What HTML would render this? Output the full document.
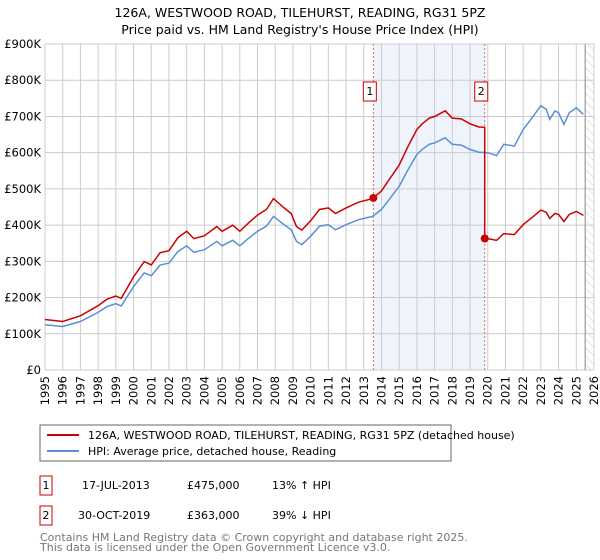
<!DOCTYPE html>
<html><head><meta charset="utf-8"><style>
body{margin:0;background:#fff;font-family:"Liberation Sans","DejaVu Sans",sans-serif;}
#wrap{position:relative;width:600px;height:560px;overflow:hidden}
</style></head><body>
<div id="wrap">
<svg id="svg" width="600" height="560" xmlns="http://www.w3.org/2000/svg" font-family="DejaVu Sans, Liberation Sans, sans-serif">
<defs>
<pattern id="hatch" width="6" height="6" patternUnits="userSpaceOnUse" patternTransform="rotate(-45)">
<line x1="0" y1="0" x2="0" y2="6" stroke="#ccc" stroke-width="1"/>
</pattern>
</defs>
<text x="300" y="17" text-anchor="middle" font-size="12.5" fill="#000">126A, WESTWOOD ROAD, TILEHURST, READING, RG31 5PZ</text>
<text x="300" y="34" text-anchor="middle" font-size="12.5" fill="#000">Price paid vs. HM Land Registry's House Price Index (HPI)</text>
<g id="plot"></g>
<rect x="40" y="425" width="411" height="36" fill="#fff" stroke="#666"/>
<line x1="47" y1="435" x2="79" y2="435" stroke="#cc0000" stroke-width="2"/>
<text x="88" y="439" font-size="11">126A, WESTWOOD ROAD, TILEHURST, READING, RG31 5PZ (detached house)</text>
<line x1="47" y1="451" x2="79" y2="451" stroke="#5b8fd4" stroke-width="2"/>
<text x="88" y="455" font-size="11">HPI: Average price, detached house, Reading</text>
<rect x="40" y="476" width="12" height="19" fill="#fff" stroke="#cc0000"/>
<text x="46" y="489" font-size="11" text-anchor="middle">1</text>
<text x="82" y="489" font-size="11">17-JUL-2013</text>
<text x="187" y="489" font-size="11">£475,000</text>
<text x="272" y="489" font-size="11">13% ↑ HPI</text>
<rect x="40" y="506" width="12" height="19" fill="#fff" stroke="#cc0000"/>
<text x="46" y="519" font-size="11" text-anchor="middle">2</text>
<text x="78" y="519" font-size="11">30-OCT-2019</text>
<text x="187" y="519" font-size="11">£363,000</text>
<text x="272" y="519" font-size="11">39% ↓ HPI</text>
<text x="40" y="541" font-size="11" fill="#777">Contains HM Land Registry data © Crown copyright and database right 2025.</text>
<text x="40" y="551" font-size="11" fill="#777">This data is licensed under the Open Government Licence v3.0.</text>
</svg>
</div>
<script>
const hpiYears=[1995,1996,1997,1998,1998.5,1999,1999.3,2000,2000.6,2001,2001.5,2002,2002.5,2003,2003.4,2004,2004.7,2005,2005.6,2006,2006.5,2007,2007.5,2007.9,2008.5,2008.9,2009.2,2009.5,2010,2010.5,2011,2011.4,2012,2012.7,2013.5,2014,2014.5,2015,2015.5,2016,2016.3,2016.7,2017,2017.6,2018,2018.5,2019,2019.5,2020,2020.5,2020.9,2021.5,2022,2022.5,2023,2023.3,2023.5,2023.8,2024,2024.3,2024.6,2025,2025.4];
const hpiValues=[125,120,134,159,175,183,177,230,268,260,290,295,327,343,325,332,355,343,358,343,364,383,397,424,401,387,355,346,369,397,401,387,401,415,424,443,475,507,553,595,609,623,627,641,623,621,609,601,600,592,623,618,664,696,730,720,692,715,710,678,710,724,706];
const saleYears=[2013.54,2019.83];
const salePrices=[475,363];
const saleLabels=["1","2"];
const yTicks=[0,100,200,300,400,500,600,700,800,900];
const yTickLabels=["£0","£100K","£200K","£300K","£400K","£500K","£600K","£700K","£800K","£900K"];
const xTicks=[];for(let y=1995;y<=2026;y++)xTicks.push(y);
const x0=45,x1=594,y0=370,y1=44;
const xs=y=>x0+(y-1995)*(x1-x0)/31;
const ys=v=>y0-(v/900)*(y0-y1);
const NS="http://www.w3.org/2000/svg";
const g=document.getElementById('plot');
function mk(t,a){const e=document.createElementNS(NS,t);for(const k in a)e.setAttribute(k,a[k]);g.appendChild(e);return e;}
function hpiAt(yr){for(let i=0;i<hpiYears.length-1;i++){if(yr>=hpiYears[i]&&yr<=hpiYears[i+1]){const t=(yr-hpiYears[i])/(hpiYears[i+1]-hpiYears[i]);return hpiValues[i]+t*(hpiValues[i+1]-hpiValues[i]);}}return hpiValues[hpiValues.length-1];}
// shaded region
let r=mk('rect',{x:xs(saleYears[0]),y:y1,width:xs(saleYears[1])-xs(saleYears[0]),height:y0-y1,fill:'#eef3fc'});


// grid
yTicks.forEach((v,i)=>{
 let l=mk('line',{x1:x0,x2:x1,y1:ys(v),y2:ys(v),stroke:'#ccc','stroke-width':1});
 
 
 let t=mk('text',{x:x0-4,y:ys(v)+4,'text-anchor':'end','font-size':'11.5'});t.textContent=yTickLabels[i];
 
 
});
xTicks.forEach(y=>{
 let l=mk('line',{x1:xs(y),x2:xs(y),y1:y1,y2:y0,stroke:'#ccc','stroke-width':1});
 
 
 let t=mk('text',{x:0,y:0,'text-anchor':'end','font-size':'11.5',transform:`translate(${xs(y)+4},${y0+6}) rotate(-90)`});t.textContent=y;
 
 
});
// hatch future
let h=mk('rect',{x:xs(2025.5),y:y1,width:x1-xs(2025.5),height:y0-y1,fill:'url(#hatch)'});


let hl=mk('line',{x1:xs(2025.5),x2:xs(2025.5),y1:y1,y2:y0,stroke:'#888'});


// sale vlines
saleYears.forEach((sy,i)=>{
 let l=mk('line',{x1:xs(sy),x2:xs(sy),y1:y1,y2:y0,stroke:'#e06666','stroke-dasharray':'2,2','stroke-width':1});
 
 
});
// HPI line
let pts=hpiYears.map((y,i)=>xs(y).toFixed(1)+','+ys(hpiValues[i]).toFixed(1)).join(' ');
let hp=mk('polyline',{points:pts,fill:'none',stroke:'#5b8fd4','stroke-width':1.5});


// property line: HPI scaled relative to last sale
const r1=salePrices[0]/hpiAt(saleYears[0]),r2=salePrices[1]/hpiAt(saleYears[1]);
let rp=[];
hpiYears.forEach((y,i)=>{if(y<saleYears[1])rp.push([y,hpiValues[i]*(y<saleYears[0]?r1:r1)]);});
rp.push([saleYears[1],hpiAt(saleYears[1])*r1]);
rp.push([saleYears[1],salePrices[1]]);
hpiYears.forEach((y,i)=>{if(y>saleYears[1])rp.push([y,hpiValues[i]*r2]);});
let pl=mk('polyline',{points:rp.map(p=>xs(p[0]).toFixed(1)+','+ys(p[1]).toFixed(1)).join(' '),fill:'none',stroke:'#cc0000','stroke-width':1.5});


saleYears.forEach((sy,i)=>{
 let c=mk('circle',{cx:xs(sy),cy:ys(salePrices[i]),r:4,fill:'#cc0000'});
 
 
 let b=mk('rect',{x:xs(sy)-10,y:82,width:13,height:19,fill:'#fff',stroke:'#cc0000'});
 
 
 let t=mk('text',{x:xs(sy)-3.5,y:95,'text-anchor':'middle','font-size':'11'});t.textContent=saleLabels[i];
 
 
});
</script>
</body></html>
